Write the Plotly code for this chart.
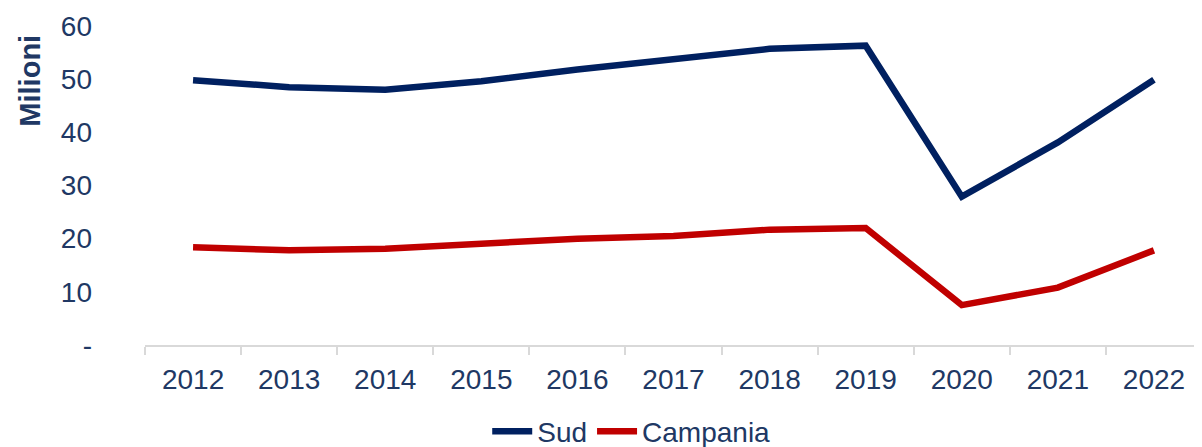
import plotly.graph_objects as go

# Data (milioni)
years = ["2012", "2013", "2014", "2015", "2016", "2017", "2018", "2019", "2020", "2021", "2022"]
sud = [49.8, 48.5, 48.0, 49.6, 51.8, 53.8, 55.7, 56.3, 27.9, 38.1, 49.9]
campania = [18.4, 17.8, 18.1, 19.0, 20.0, 20.5, 21.7, 22.0, 7.5, 10.8, 17.8]
y_ticks = [0, 10, 20, 30, 40, 50, 60]
y_ticktext = ["-", "10", "20", "30", "40", "50", "60"]

TEXT = "#203864"
FONT = "Liberation Sans, Arial, sans-serif"

fig = go.Figure()
fig.add_trace(go.Scatter(x=years, y=sud, name="Sud", mode="lines",
                         line=dict(color="#002060", width=6.5)))
fig.add_trace(go.Scatter(x=years, y=campania, name="Campania", mode="lines",
                         line=dict(color="#C00000", width=6.5)))

fig.update_xaxes(type="category", range=[-0.5, len(years) - 0.5], automargin=False,
                 showline=True, linecolor="#D9D9D9", linewidth=2,
                 ticks="outside", tickson="boundaries", ticklen=8, tickcolor="#D9D9D9",
                 tickwidth=2, showgrid=False, zeroline=False, ticklabelstandoff=8,
                 tickfont=dict(size=28, color=TEXT, family=FONT))
fig.update_yaxes(range=[0, 60], tickvals=y_ticks, ticktext=y_ticktext, automargin=False,
                 showgrid=False, zeroline=False, showline=False,
                 ticks="", ticklabelstandoff=52,
                 tickfont=dict(size=28, color=TEXT, family=FONT))

# rotated axis title, sits near the top like in the original
fig.add_annotation(text="<b>Milioni</b>", textangle=-90, xref="paper", yref="paper",
                   x=-0.109, y=0.828, xanchor="center", yanchor="middle", showarrow=False,
                   font=dict(size=29, color=TEXT, family=FONT))

# the page body adds an 8px offset, so the figure is 8px smaller on each side
fig.update_layout(width=1194, height=439, margin=dict(l=137, r=0, t=18, b=102),
                  paper_bgcolor="white", plot_bgcolor="white",
                  font=dict(family=FONT, color=TEXT),
                  showlegend=True,
                  legend=dict(orientation="h", x=0.46, xanchor="center",
                              yref="container", y=0.092, yanchor="top",
                              font=dict(size=28, color=TEXT, family=FONT),
                              itemwidth=40, tracegroupgap=0))

fig.write_html("out.html")
